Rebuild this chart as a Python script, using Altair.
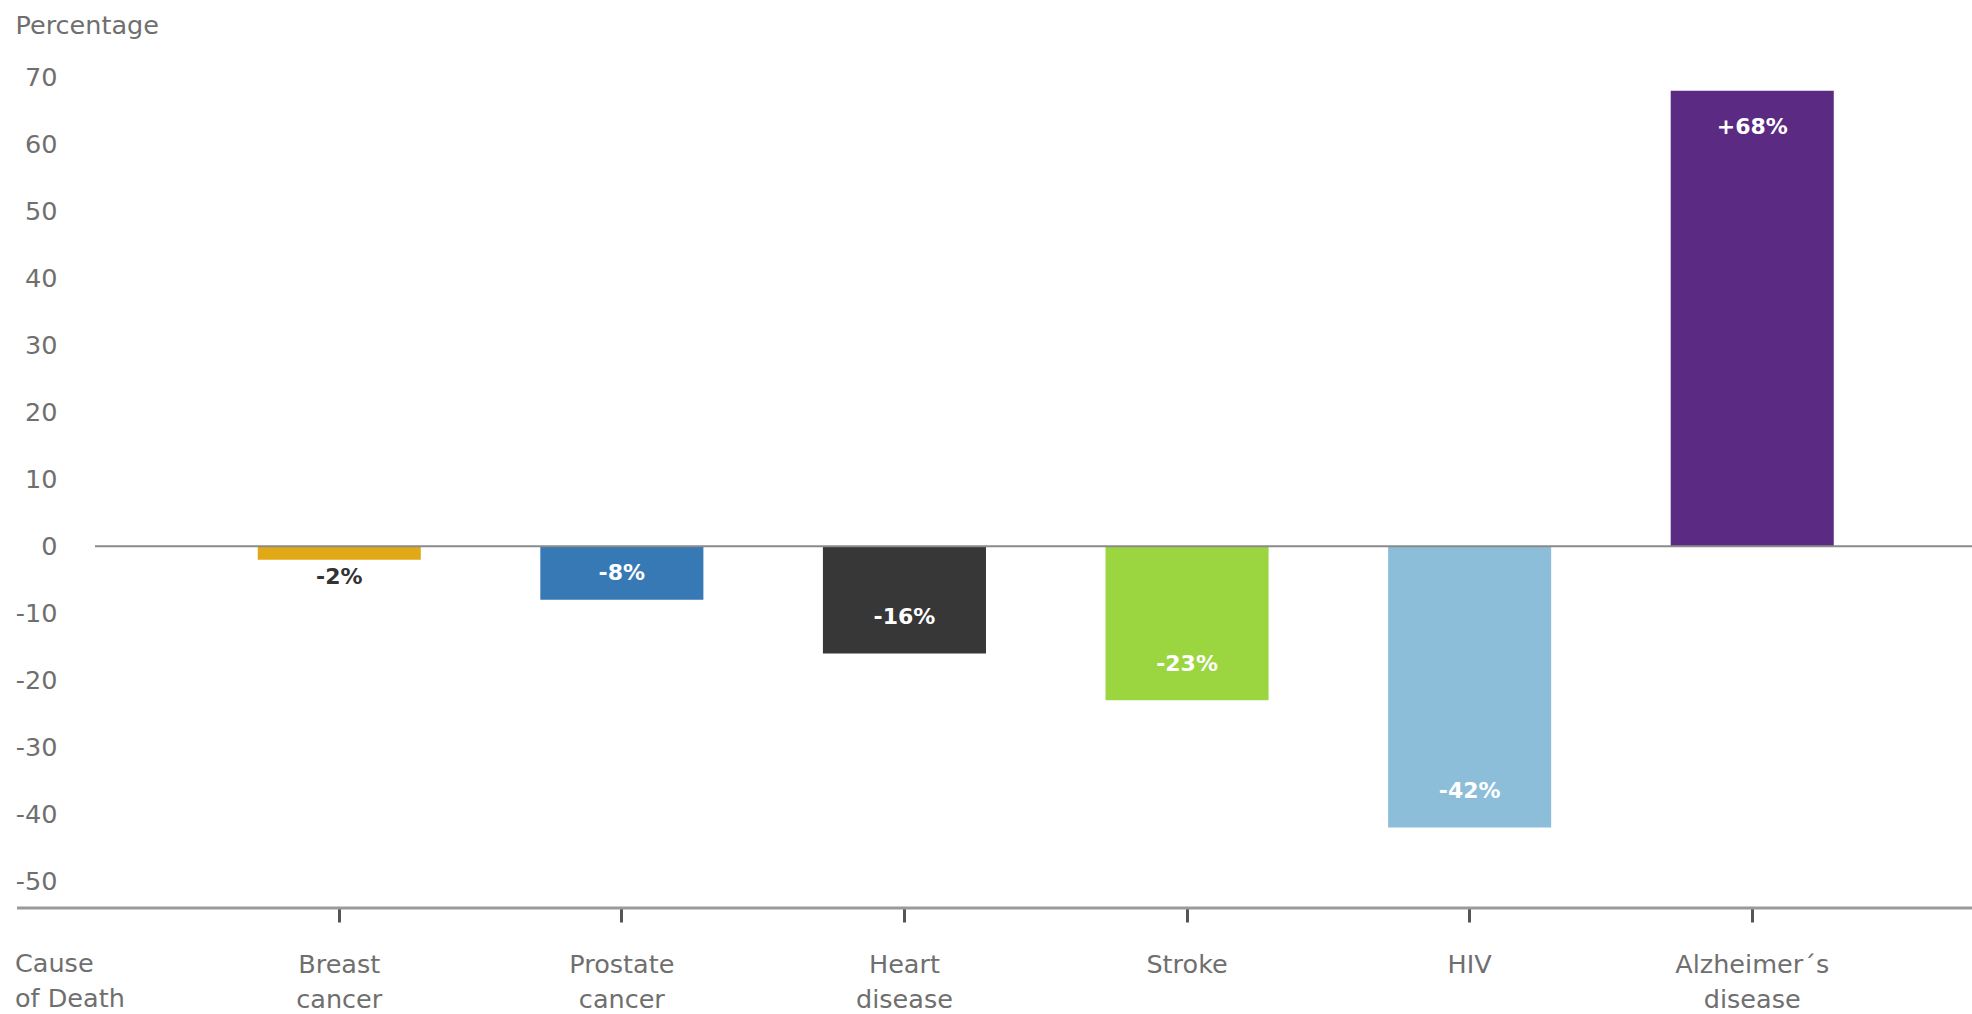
import altair as alt
import pandas as pd

# ---- data ----
causes = ["Breast cancer", "Prostate cancer", "Heart disease", "Stroke", "HIV", "Alzheimer´s disease"]
changes = [-2, -8, -16, -23, -42, 68]
labels = ["-2%", "-8%", "-16%", "-23%", "-42%", "+68%"]
colors = ["#E2A916", "#3679B5", "#373737", "#9BD53F", "#8CBEDA", "#5B2A83"]
y_ticks = [-50, -40, -30, -20, -10, 0, 10, 20, 30, 40, 50, 60, 70]
x_caption = ["Cause", "of Death"]

df = pd.DataFrame({"cause": causes, "change": changes, "label": labels})
one = pd.DataFrame({"k": [0]})

W, H = 1877, 844
FONT = "DejaVu Sans"
GRAY = "#6f6f6f"
FS = 25.5

x_scale = alt.Scale(domain=causes, paddingInner=0.423, paddingOuter=0.5325, align=0.5407)
y_scale = alt.Scale(domain=[-54, 72], nice=False, zero=False)

x_axis = alt.Axis(
    title=None, labelAngle=0, labelExpr="split(datum.label, ' ')",
    labelFont=FONT, labelFontSize=FS, labelColor=GRAY, labelLineHeight=35,
    ticks=True, tickSize=14, tickWidth=3, tickColor="#555555",
    labelPadding=30, domain=False, grid=False,
)
y_axis = alt.Axis(
    values=y_ticks, labelExpr="datum.value + ''",
    title="Percentage", titleAngle=0, titleAlign="left",
    titleBaseline="middle", titleX=-80, titleY=-39, titleFont=FONT,
    titleFontSize=FS, titleFontWeight="normal", titleColor=GRAY,
    ticks=False, domain=False, grid=False, labelPadding=38,
    labelFont=FONT, labelFontSize=FS, labelColor=GRAY,
)

bars = alt.Chart(df).mark_bar().encode(
    x=alt.X("cause:N", scale=x_scale, sort=causes, axis=x_axis),
    y=alt.Y("change:Q", scale=y_scale, axis=y_axis),
    color=alt.Color("cause:N", scale=alt.Scale(domain=causes, range=colors), legend=None),
)

txt = alt.Chart(df).transform_calculate(
    pos="abs(datum.change) >= 10 ? datum.change - 5.4*(datum.change < 0 ? -1 : 1) : "
        "(abs(datum.change) >= 5 ? datum.change/2 : datum.change - 2.6)"
).mark_text(font=FONT, fontSize=22, fontWeight="bold", baseline="middle").encode(
    x=alt.X("cause:N", scale=x_scale, sort=causes, axis=x_axis),
    y=alt.Y("pos:Q", scale=y_scale, axis=y_axis),
    text="label:N",
    color=alt.condition("abs(datum.change) < 5", alt.value("#333333"), alt.value("#ffffff")),
)

zero = alt.Chart(one).mark_rule(color="#8a8a8a", strokeWidth=2).encode(
    y=alt.datum(0)
)

bottom = alt.Chart(one).mark_rule(color="#9a9a9a", strokeWidth=3).encode(
    x=alt.value(-78), x2=alt.value(W), y=alt.value(H)
)

caption = alt.Chart(one).mark_text(
    text=x_caption, font=FONT, fontSize=FS, color=GRAY, align="left",
    baseline="top", lineHeight=35,
).encode(x=alt.value(-80), y=alt.value(H + 44))

chart = alt.layer(bars, txt, zero, bottom, caption).properties(
    width=W, height=H,
    autosize=alt.AutoSizeParams(type="none"),
    padding={"left": 95, "top": 64, "right": 0, "bottom": 106},
    background="white",
).configure_view(stroke=None)

chart.save("out.html", embed_options={"renderer": "svg", "actions": False})
